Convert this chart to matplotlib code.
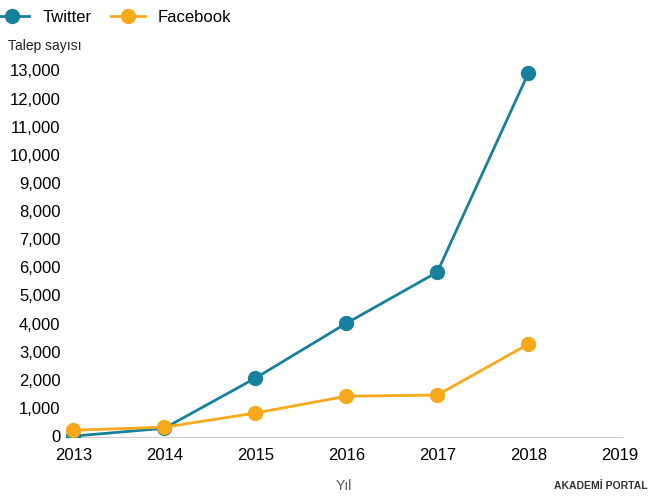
import matplotlib
matplotlib.use("Agg")
import matplotlib.pyplot as plt
plt.rcParams["font.family"] = ["Liberation Sans", "DejaVu Sans"]

years = [2013, 2014, 2015, 2016, 2017, 2018]
twitter = [0, 280, 2060, 4010, 5830, 12900]
facebook = [210, 320, 820, 1420, 1460, 3270]
xticks = [2013, 2014, 2015, 2016, 2017, 2018, 2019]
yticks = list(range(0, 13001, 1000))

fig = plt.figure(figsize=(6.51, 4.99), dpi=100)
L, R, T, B = 66, 622, 60, 437
ax = fig.add_axes([L/651, 1-B/499, (R-L)/651, (B-T)/499])
tc, fc = "#17809c", "#f7a81b"
ax.plot(years, twitter, color=tc, lw=2, marker="o", ms=10, label="Twitter", zorder=3)
ax.plot(years, facebook, color=fc, lw=2, marker="o", ms=10, label="Facebook", zorder=3)
ax.set_xlim(2012.92, 2019.03)
ax.set_ylim(-30, 13370)
ax.set_xticks(xticks)
ax.set_yticks(yticks)
ax.set_yticklabels([f"{v:,}" for v in yticks])
for s in ["top", "right", "left"]:
    ax.spines[s].set_visible(False)
ax.spines["bottom"].set_color("#cccccc")
ax.tick_params(axis="y", length=0, labelsize=12, pad=4)
ax.tick_params(axis="x", length=0, labelsize=12, pad=8)
ax.text(8/651, 1-50/499, "Talep sayısı", transform=fig.transFigure, fontsize=10, color="#222222")
ax.text(0.5, -0.14, "Yıl", transform=ax.transAxes, fontsize=10, color="#555555", ha="center")
fig.text(0.995, 0.02, "AKADEMİ PORTAL", fontsize=7.5, fontweight="bold", ha="right", color="#333333")
fig.legend(loc="upper left", bbox_to_anchor=(-0.03, 1.01), ncol=2, frameon=False, fontsize=12,
           handlelength=2, columnspacing=1.2)
fig.savefig("out.png", dpi=100)
